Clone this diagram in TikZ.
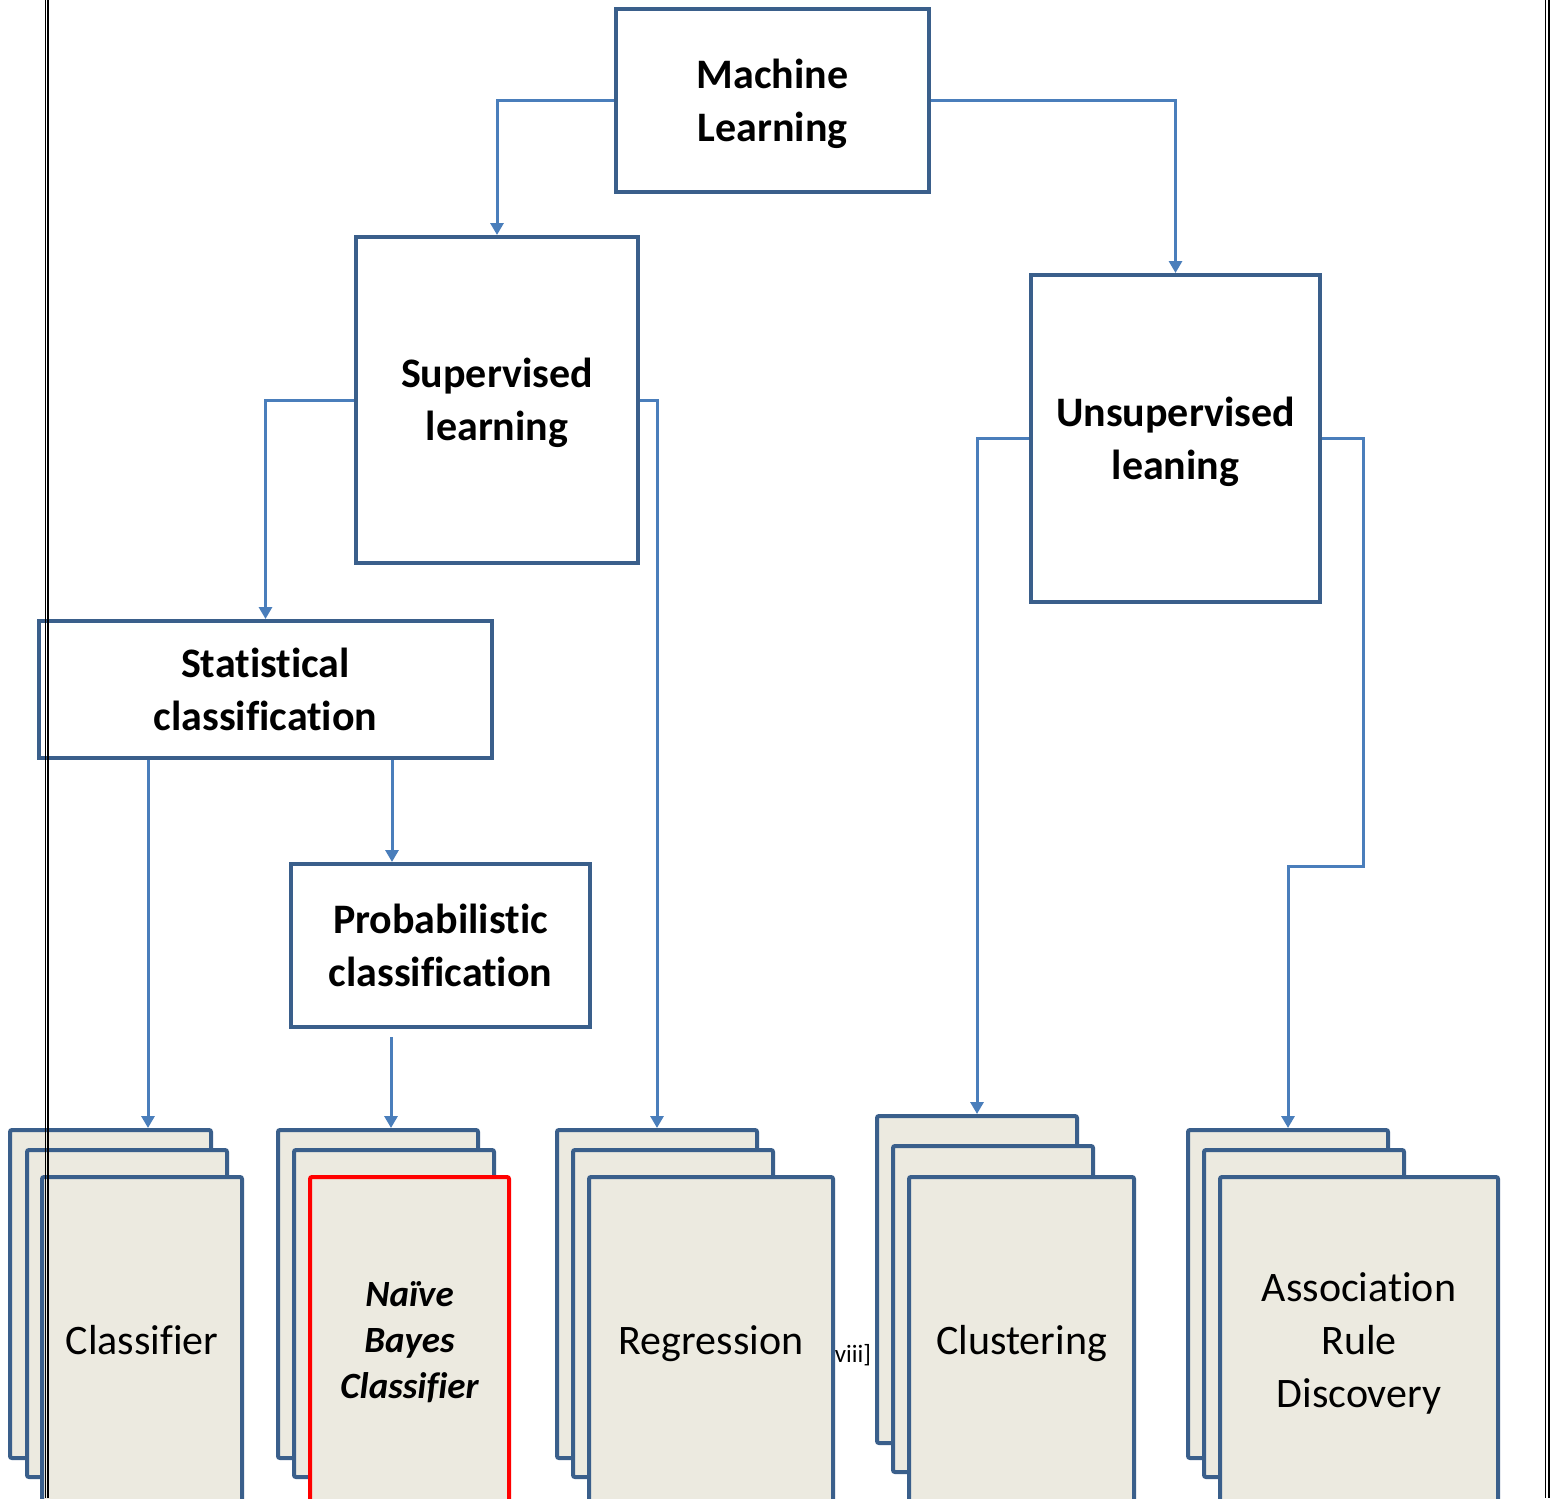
\documentclass[tikz,border=0pt]{standalone}
\usepackage{fontspec}
\setmainfont[Ligatures={TeX,NoCommon}]{Carlito}
\usetikzlibrary{arrows.meta}
\definecolor{boxblue}{HTML}{3A5F8B}
\definecolor{linkblue}{HTML}{4A7EBB}
\definecolor{paper}{HTML}{ECEAE0}
\newcommand{\bigstrut}{\rule[-6.08pt]{0pt}{26.5pt}}
\newcommand{\nbstrut}{\rule[-5.18pt]{0pt}{23pt}}
\tikzset{
  mainbox/.style={draw=boxblue, line width=2pt, fill=white, align=center, inner sep=0pt,
    font=\fontsize{21}{26.5}\selectfont\bfseries},
  card/.style={draw=boxblue, line width=2pt, fill=paper, rounded corners=1pt, inner sep=0pt, align=center,
    font=\fontsize{21}{26.5}\selectfont},
  redcard/.style={draw=red, line width=2pt, fill=paper, rounded corners=1pt, inner sep=0pt, align=center,
    font=\fontsize{18.5}{23}\selectfont\bfseries\itshape},
  conn/.style={draw=linkblue, line width=1.5pt, -{Triangle[length=6pt,width=6.5pt]}},
  border/.style={draw=black, line width=0.6pt}
}
\begin{document}
\begin{tikzpicture}[x=0.5pt,y=-0.5pt]
\clip (0,0) rectangle (1561,1498);
\fill[white] (0,0) rectangle (1561,1498);

% main boxes
\node[mainbox, minimum width=156.5pt, minimum height=91.5pt] (ml) at (772.5,100.5) {\bigstrut Machine\\Learning\bigstrut};
\node[mainbox, minimum width=141pt, minimum height=163pt] (sup) at (497,400) {\bigstrut Supervised\\learning\bigstrut};
\node[mainbox, minimum width=144.5pt, minimum height=163.5pt] (uns) at (1175.5,438.5) {\bigstrut Unsupervised\\leaning\bigstrut};
\node[mainbox, minimum width=226.5pt, minimum height=68.5pt] (stat) at (265.5,689.5) {\bigstrut Statistical\\classification\bigstrut};
\node[mainbox, minimum width=149.5pt, minimum height=81.5pt] (prob) at (440.5,945.5) {\bigstrut Probabilistic\\classification\bigstrut};

% stacks
\node[card, minimum width=100.5pt, minimum height=164pt] (cls1) at (110.5,1294) {};
\node[card, minimum width=100pt, minimum height=163.5pt] (cls2) at (127,1313.5) {};
\node[card, minimum width=100pt, minimum height=163pt] (cls3) at (142,1340) {\bigstrut Classifier};

\node[card, minimum width=100pt, minimum height=164pt] (nb1) at (378,1294) {};
\node[card, minimum width=100pt, minimum height=163.5pt] (nb2) at (394,1313.5) {};
\node[redcard, minimum width=99.5pt, minimum height=163pt] (nb3) at (409.5,1340) {\nbstrut Naïve\\Bayes\\Classifier\nbstrut};

\node[card, minimum width=100pt, minimum height=164pt] (reg1) at (657,1294) {};
\node[card, minimum width=100pt, minimum height=163.5pt] (reg2) at (673,1313.5) {};
\node[card, minimum width=122pt, minimum height=163pt] (reg3) at (711,1340) {\bigstrut Regression};

\node[card, minimum width=100pt, minimum height=163.5pt] (clu1) at (977,1279.5) {};
\node[card, minimum width=100pt, minimum height=163pt] (clu2) at (993,1309) {};
\node[card, minimum width=112.5pt, minimum height=163pt] (clu3) at (1021.5,1340) {\bigstrut Clustering};

\node[card, minimum width=100pt, minimum height=164pt] (asc1) at (1288,1294) {};
\node[card, minimum width=100pt, minimum height=163.5pt] (asc2) at (1304,1313.5) {};
\node[card, minimum width=139pt, minimum height=163pt] (asc3) at (1359,1340) {\bigstrut Association\\Rule\\Discovery\bigstrut};

\node[font=\fontsize{12.5}{15}\selectfont, inner sep=0pt] (note) at (853,1355) {viii]};

% connectors
\draw[conn] (ml.west) -| (sup.north);
\draw[conn] (ml.east) -| (uns.north);
\draw[conn] (sup.west) -| (stat.north);
\draw[conn] (sup.east) -| (reg1.north);
\draw[conn] (uns.west) -| (clu1.north);
\draw[conn] (uns.east) -| ++(41,427.5) -| (asc1.north);
\coordinate (s1) at ([xshift=55.5pt]stat.south west);
\coordinate (s2) at ([xshift=177.5pt]stat.south west);
\coordinate (p1) at ([xshift=51pt,yshift=-4pt]prob.south west);
\draw[conn] (s1) -- (s1 |- cls1.north);
\draw[conn] (s2) -- (s2 |- prob.north);
\draw[conn] (p1) -- (p1 |- nb1.north);

% page border lines
\draw[border] (45.7,0) -- (45.7,1498);
\draw[border] (47.9,0) -- (47.9,1498);
\draw[border] (1545.6,0) -- (1545.6,1498);
\draw[border] (1549,0) -- (1549,1498);
\end{tikzpicture}
\end{document}
